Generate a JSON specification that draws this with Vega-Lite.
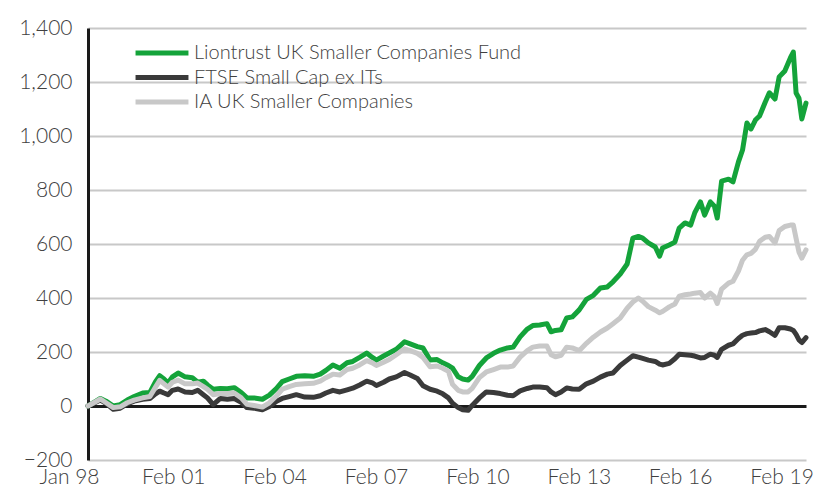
{
  "$schema": "https://vega.github.io/schema/vega-lite/v6.json",
  "width": 718,
  "height": 432,
  "autosize": {"type": "none"},
  "padding": {"left": 88, "top": 28, "right": 12, "bottom": 27},
  "background": "white",
  "config": {
    "view": {"stroke": null},
    "font": "Lato",
    "axis": {"labelFont": "Lato", "labelFontWeight": 300, "labelColor": "#404040"},
    "legend": {"labelFont": "Lato", "labelFontWeight": 300, "labelColor": "#404040"}
  },
  "data": {
    "values": [
      {"d":"1998-01-01","L":0,"F":0,"I":0},
      {"d":"1998-03-15","L":15,"F":12,"I":14},
      {"d":"1998-05-15","L":28,"F":22,"I":26},
      {"d":"1998-07-15","L":18,"F":10,"I":12},
      {"d":"1998-10-01","L":0,"F":-12,"I":-6},
      {"d":"1998-12-15","L":5,"F":-8,"I":-3},
      {"d":"1999-03-01","L":22,"F":8,"I":12},
      {"d":"1999-05-15","L":35,"F":18,"I":22},
      {"d":"1999-08-15","L":48,"F":25,"I":30},
      {"d":"1999-11-01","L":50,"F":28,"I":35},
      {"d":"2000-01-01","L":90,"F":45,"I":70},
      {"d":"2000-02-15","L":112,"F":55,"I":95},
      {"d":"2000-04-01","L":100,"F":48,"I":82},
      {"d":"2000-05-15","L":85,"F":42,"I":70},
      {"d":"2000-07-01","L":108,"F":58,"I":88},
      {"d":"2000-09-01","L":122,"F":63,"I":96},
      {"d":"2000-11-15","L":108,"F":52,"I":82},
      {"d":"2001-02-01","L":105,"F":50,"I":82},
      {"d":"2001-04-01","L":88,"F":58,"I":85},
      {"d":"2001-06-01","L":92,"F":42,"I":72},
      {"d":"2001-07-15","L":78,"F":30,"I":62},
      {"d":"2001-09-15","L":62,"F":5,"I":42},
      {"d":"2001-12-01","L":65,"F":28,"I":46},
      {"d":"2002-02-15","L":64,"F":25,"I":46},
      {"d":"2002-05-01","L":68,"F":28,"I":48},
      {"d":"2002-07-15","L":50,"F":14,"I":30},
      {"d":"2002-09-15","L":30,"F":-6,"I":6},
      {"d":"2002-12-01","L":30,"F":-8,"I":2},
      {"d":"2003-03-01","L":25,"F":-14,"I":-4},
      {"d":"2003-05-15","L":40,"F":-2,"I":12},
      {"d":"2003-08-01","L":65,"F":18,"I":38},
      {"d":"2003-10-01","L":90,"F":28,"I":62},
      {"d":"2003-12-15","L":100,"F":35,"I":72},
      {"d":"2004-03-01","L":110,"F":42,"I":80},
      {"d":"2004-06-01","L":112,"F":33,"I":82},
      {"d":"2004-09-01","L":110,"F":32,"I":84},
      {"d":"2004-11-15","L":118,"F":38,"I":92},
      {"d":"2005-01-15","L":132,"F":48,"I":105},
      {"d":"2005-04-01","L":152,"F":58,"I":118},
      {"d":"2005-06-15","L":140,"F":52,"I":115},
      {"d":"2005-09-01","L":160,"F":60,"I":135},
      {"d":"2005-11-01","L":165,"F":66,"I":140},
      {"d":"2006-01-15","L":180,"F":78,"I":152},
      {"d":"2006-04-01","L":196,"F":92,"I":168},
      {"d":"2006-06-01","L":180,"F":86,"I":160},
      {"d":"2006-07-15","L":170,"F":76,"I":150},
      {"d":"2006-10-01","L":185,"F":88,"I":162},
      {"d":"2006-12-01","L":196,"F":100,"I":172},
      {"d":"2007-02-15","L":210,"F":108,"I":190},
      {"d":"2007-05-15","L":238,"F":124,"I":212},
      {"d":"2007-07-15","L":230,"F":115,"I":205},
      {"d":"2007-10-01","L":220,"F":102,"I":195},
      {"d":"2007-12-01","L":215,"F":75,"I":180},
      {"d":"2008-02-15","L":170,"F":62,"I":145},
      {"d":"2008-05-01","L":172,"F":55,"I":148},
      {"d":"2008-07-01","L":160,"F":45,"I":140},
      {"d":"2008-09-01","L":150,"F":30,"I":128},
      {"d":"2008-10-15","L":140,"F":10,"I":80},
      {"d":"2008-12-15","L":108,"F":-6,"I":58},
      {"d":"2009-02-01","L":100,"F":-14,"I":52},
      {"d":"2009-04-01","L":96,"F":-16,"I":52},
      {"d":"2009-05-15","L":110,"F":2,"I":65},
      {"d":"2009-08-01","L":150,"F":30,"I":105},
      {"d":"2009-10-15","L":178,"F":52,"I":126},
      {"d":"2010-01-01","L":195,"F":50,"I":135},
      {"d":"2010-03-15","L":207,"F":46,"I":144},
      {"d":"2010-06-01","L":215,"F":40,"I":144},
      {"d":"2010-08-01","L":218,"F":38,"I":148},
      {"d":"2010-10-15","L":256,"F":56,"I":181},
      {"d":"2011-01-01","L":285,"F":65,"I":205},
      {"d":"2011-03-01","L":298,"F":70,"I":218},
      {"d":"2011-05-15","L":300,"F":70,"I":222},
      {"d":"2011-08-01","L":305,"F":68,"I":222},
      {"d":"2011-09-15","L":275,"F":52,"I":190},
      {"d":"2011-11-01","L":280,"F":42,"I":182},
      {"d":"2012-01-01","L":282,"F":52,"I":188},
      {"d":"2012-03-01","L":326,"F":67,"I":218},
      {"d":"2012-05-01","L":330,"F":63,"I":215},
      {"d":"2012-07-15","L":356,"F":62,"I":205},
      {"d":"2012-10-01","L":395,"F":82,"I":232},
      {"d":"2012-12-15","L":410,"F":92,"I":255},
      {"d":"2013-03-01","L":437,"F":107,"I":274},
      {"d":"2013-05-15","L":441,"F":118,"I":289},
      {"d":"2013-07-15","L":460,"F":122,"I":305},
      {"d":"2013-10-01","L":489,"F":150,"I":326},
      {"d":"2013-12-15","L":526,"F":170,"I":362},
      {"d":"2014-02-15","L":622,"F":186,"I":385},
      {"d":"2014-04-15","L":628,"F":181,"I":400},
      {"d":"2014-06-01","L":622,"F":176,"I":388},
      {"d":"2014-08-01","L":604,"F":170,"I":368},
      {"d":"2014-10-15","L":589,"F":165,"I":355},
      {"d":"2014-12-01","L":555,"F":155,"I":345},
      {"d":"2015-01-01","L":585,"F":152,"I":350},
      {"d":"2015-03-15","L":596,"F":158,"I":367},
      {"d":"2015-05-15","L":607,"F":175,"I":378},
      {"d":"2015-07-01","L":659,"F":192,"I":407},
      {"d":"2015-09-01","L":678,"F":190,"I":412},
      {"d":"2015-11-01","L":670,"F":188,"I":415},
      {"d":"2015-12-15","L":715,"F":185,"I":418},
      {"d":"2016-02-15","L":756,"F":178,"I":420},
      {"d":"2016-04-01","L":707,"F":180,"I":400},
      {"d":"2016-06-01","L":756,"F":192,"I":418},
      {"d":"2016-07-15","L":740,"F":188,"I":405},
      {"d":"2016-08-15","L":696,"F":180,"I":380},
      {"d":"2016-10-01","L":833,"F":210,"I":433},
      {"d":"2016-12-15","L":840,"F":225,"I":455},
      {"d":"2017-02-01","L":830,"F":230,"I":462},
      {"d":"2017-04-01","L":904,"F":250,"I":500},
      {"d":"2017-05-15","L":948,"F":262,"I":540},
      {"d":"2017-07-01","L":1048,"F":268,"I":560},
      {"d":"2017-08-15","L":1026,"F":270,"I":565},
      {"d":"2017-10-01","L":1059,"F":272,"I":580},
      {"d":"2017-11-15","L":1074,"F":278,"I":610},
      {"d":"2018-01-15","L":1125,"F":283,"I":625},
      {"d":"2018-03-01","L":1160,"F":275,"I":628},
      {"d":"2018-05-01","L":1137,"F":262,"I":604},
      {"d":"2018-06-15","L":1219,"F":290,"I":650},
      {"d":"2018-08-15","L":1241,"F":290,"I":665},
      {"d":"2018-10-15","L":1290,"F":285,"I":670},
      {"d":"2018-11-15","L":1311,"F":280,"I":670},
      {"d":"2018-12-15","L":1159,"F":265,"I":620},
      {"d":"2019-01-15","L":1140,"F":245,"I":570},
      {"d":"2019-02-15","L":1063,"F":235,"I":548},
      {"d":"2019-04-01","L":1122,"F":253,"I":578}
    ]
  },
  "transform": [
    {"fold": ["L", "F", "I"], "as": ["series", "value"]}
  ],
  "mark": {"type": "line", "strokeWidth": 5, "strokeJoin": "round", "strokeCap": "round"},
  "encoding": {
    "x": {
      "field": "d",
      "type": "temporal",
      "scale": {"domain": ["1998-01-01", "2019-04-01"]},
      "axis": {
        "title": null,
        "domain": false,
        "ticks": false,
        "grid": false,
        "format": "%b %y",
        "values": [
          {"year": 1998, "month": 1, "date": 1},
          {"year": 2001, "month": 2, "date": 1},
          {"year": 2004, "month": 2, "date": 1},
          {"year": 2007, "month": 2, "date": 1},
          {"year": 2010, "month": 2, "date": 1},
          {"year": 2013, "month": 2, "date": 1},
          {"year": 2016, "month": 2, "date": 1},
          {"year": 2019, "month": 2, "date": 1}
        ],
        "labelFontSize": 21,
        "labelPadding": 6,
        "labelOffset": -19,
        "labelOverlap": false,
        "labelFlush": false
      }
    },
    "y": {
      "field": "value",
      "type": "quantitative",
      "scale": {"domain": [-200, 1400], "nice": false},
      "axis": {
        "title": null,
        "values": [-200, 0, 200, 400, 600, 800, 1000, 1200, 1400],
        "format": ",d",
        "ticks": false,
        "domainColor": "#1a1a1a",
        "domainWidth": 3,
        "gridColor": {"condition": {"test": "datum.value === 0", "value": "#1a1a1a"}, "value": "#c8c8c8"},
        "gridWidth": {"condition": {"test": "datum.value === 0", "value": 3}, "value": 2},
        "labelFontSize": 21,
        "labelPadding": 16
      }
    },
    "color": {
      "field": "series",
      "type": "nominal",
      "scale": {"domain": ["L", "F", "I"], "range": ["#14a33a", "#3a3a3a", "#c8c8c8"]},
      "legend": {
        "title": null,
        "orient": "none",
        "legendX": 45,
        "legendY": 15,
        "symbolType": "stroke",
        "symbolSize": 2800,
        "symbolStrokeWidth": 5,
        "clipHeight": 20,
        "rowPadding": 4.5,
        "labelOffset": 3,
        "labelFontSize": 20,
        "labelLimit": 600,
        "labelExpr": "datum.value == 'L' ? 'Liontrust UK Smaller Companies Fund' : datum.value == 'F' ? 'FTSE Small Cap ex ITs' : 'IA UK Smaller Companies'"
      }
    },
    "order": {"field": "series"}
  }
}
